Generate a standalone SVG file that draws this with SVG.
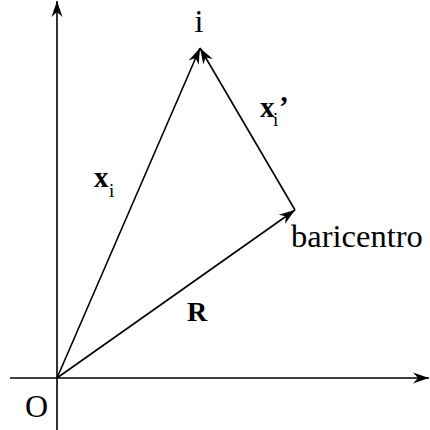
<svg xmlns="http://www.w3.org/2000/svg" width="430" height="430" viewBox="0 0 430 430">
<style>
.ln{stroke:#000;stroke-width:1.6;fill:none}
.t{font-family:"Liberation Serif","Times New Roman",serif;fill:#000}
.b{font-weight:bold}
</style>
<defs>
<marker id="ah" markerUnits="userSpaceOnUse" markerWidth="20" markerHeight="14" viewBox="-17 -7 18 14" refX="0" refY="0" orient="auto">
<path d="M0,0 L-16,-5.5 L-11,0 L-16,5.5 Z" fill="#000"/>
</marker>
</defs>
<rect width="430" height="430" fill="#fff"/>
<g id="connectors">
<line class="ln" x1="57" y1="430" x2="57" y2="1" marker-end="url(#ah)"/>
<line class="ln" x1="10" y1="378" x2="429" y2="378" marker-end="url(#ah)"/>
<line class="ln" x1="57" y1="378" x2="200" y2="48" marker-end="url(#ah)"/>
<line class="ln" x1="295" y1="210" x2="200" y2="48" marker-end="url(#ah)"/>
<line class="ln" x1="57" y1="378" x2="295" y2="210" marker-end="url(#ah)"/>
</g>
<g id="node-i"><text class="t" x="199" y="32" font-size="32" text-anchor="middle">i</text></g>
<g id="node-O"><text class="t" x="25" y="417" font-size="32">O</text></g>
<g id="node-baricentro"><text class="t" x="291" y="247" font-size="32.5">baricentro</text></g>
<g id="label-xi"><text class="t b" x="94" y="187" font-size="29">x</text><text class="t" x="109" y="197" font-size="19">i</text></g>
<g id="label-xip"><text class="t b" x="260" y="117" font-size="29">x</text><text class="t" x="273" y="126" font-size="19">i</text><text class="t b" x="279" y="116" font-size="29">’</text></g>
<g id="label-R"><text class="t b" x="187" y="321" font-size="28">R</text></g>
</svg>
